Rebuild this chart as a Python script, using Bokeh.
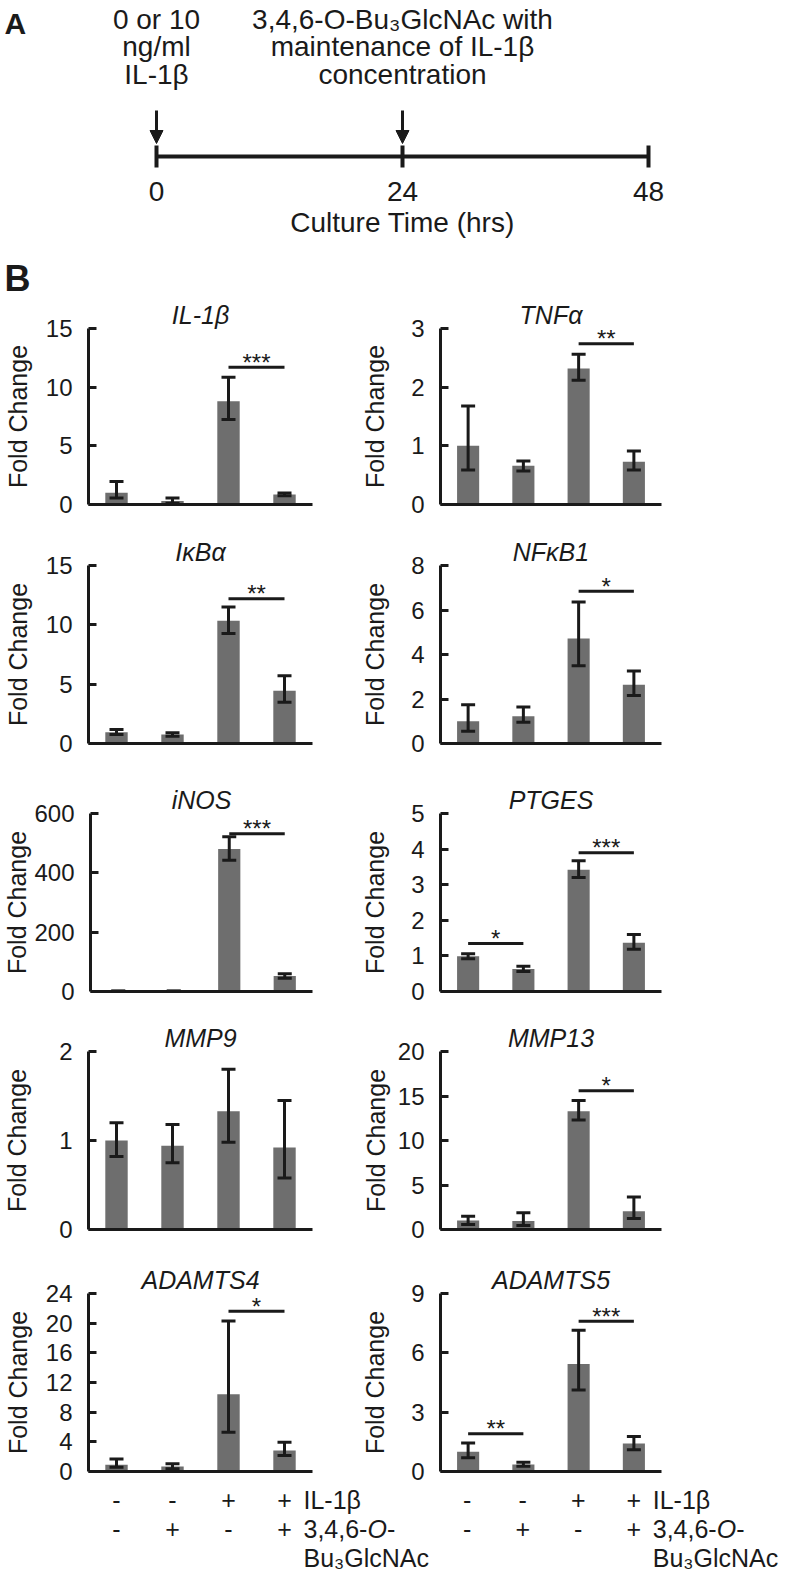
from bokeh.plotting import figure
from bokeh.models import (Range1d, LinearAxis, FixedTicker, Whisker, TeeHead,
                          ColumnDataSource, Arrow, NormalHead)
from bokeh.layouts import column, row
from bokeh.embed import file_html
from bokeh.resources import INLINE
from bokeh.core.properties import value

FONT = "Liberation Sans"
INK = "#1a1a1a"
BAR = "#6e6e6e"

# ---------------- Panel A data ----------------
timeline_hours = [0, 24, 48]
event_hours = [0, 24]
event_0_lines = ["0 or 10", "ng/ml", "IL-1β"]
event_24_lines = ["3,4,6-O-Bu₃GlcNAc with", "maintenance of IL-1β", "concentration"]
time_axis_label = "Culture Time (hrs)"

# ---------------- Panel B data ----------------
il1b_row = ["-", "-", "+", "+"]
bu3_row = ["-", "+", "-", "+"]
y_axis_label = "Fold Change"

IL1B_mean = [1.0, 0.3, 8.8, 0.85]
IL1B_hi = [1.95, 0.55, 10.85, 0.97]
IL1B_lo = [0.55, 0.1, 7.25, 0.75]
IL1B_ticks = [0, 5, 10, 15]
IL1B_sig = [(2, 3, 11.7, "***")]

TNFA_mean = [1.0, 0.66, 2.32, 0.73]
TNFA_hi = [1.68, 0.74, 2.56, 0.91]
TNFA_lo = [0.59, 0.57, 2.12, 0.59]
TNFA_ticks = [0, 1, 2, 3]
TNFA_sig = [(2, 3, 2.74, "**")]

IKBA_mean = [0.95, 0.75, 10.35, 4.45]
IKBA_hi = [1.17, 0.9, 11.5, 5.7]
IKBA_lo = [0.75, 0.61, 9.27, 3.47]
IKBA_ticks = [0, 5, 10, 15]
IKBA_sig = [(2, 3, 12.2, "**")]

NFKB1_mean = [1.0, 1.22, 4.72, 2.64]
NFKB1_hi = [1.74, 1.64, 6.36, 3.26]
NFKB1_lo = [0.55, 0.95, 3.5, 2.16]
NFKB1_ticks = [0, 2, 4, 6, 8]
NFKB1_sig = [(2, 3, 6.84, "*")]

INOS_mean = [1.0, 1.3, 480, 52]
INOS_hi = [1.5, 1.8, 522, 60]
INOS_lo = [0.5, 0.8, 442, 45]
INOS_ticks = [0, 200, 400, 600]
INOS_sig = [(2, 3, 532, "***")]

PTGES_mean = [0.99, 0.63, 3.42, 1.37]
PTGES_hi = [1.06, 0.71, 3.67, 1.6]
PTGES_lo = [0.92, 0.56, 3.2, 1.19]
PTGES_ticks = [0, 1, 2, 3, 4, 5]
PTGES_sig = [(0, 1, 1.35, "*"), (2, 3, 3.9, "***")]

MMP9_mean = [1.0, 0.94, 1.33, 0.92]
MMP9_hi = [1.2, 1.18, 1.8, 1.45]
MMP9_lo = [0.82, 0.75, 0.98, 0.58]
MMP9_ticks = [0, 1, 2]
MMP9_sig = []

MMP13_mean = [1.0, 0.95, 13.3, 2.04]
MMP13_hi = [1.5, 1.87, 14.5, 3.65]
MMP13_lo = [0.56, 0.45, 12.3, 1.23]
MMP13_ticks = [0, 5, 10, 15, 20]
MMP13_sig = [(2, 3, 15.6, "*")]

ADAMTS4_mean = [0.9, 0.67, 10.4, 2.83]
ADAMTS4_hi = [1.7, 1.03, 20.3, 3.95]
ADAMTS4_lo = [0.58, 0.36, 5.3, 2.16]
ADAMTS4_ticks = [0, 4, 8, 12, 16, 20, 24]
ADAMTS4_sig = [(2, 3, 21.6, "*")]

ADAMTS5_mean = [1.0, 0.35, 5.43, 1.41]
ADAMTS5_hi = [1.44, 0.47, 7.14, 1.77]
ADAMTS5_lo = [0.69, 0.27, 4.12, 1.1]
ADAMTS5_ticks = [0, 3, 6, 9]
ADAMTS5_sig = [(0, 1, 1.91, "**"), (2, 3, 7.6, "***")]

panels = [
    ("IL-1β", IL1B_mean, IL1B_hi, IL1B_lo, IL1B_ticks, IL1B_sig),
    ("TNFα", TNFA_mean, TNFA_hi, TNFA_lo, TNFA_ticks, TNFA_sig),
    ("IκBα", IKBA_mean, IKBA_hi, IKBA_lo, IKBA_ticks, IKBA_sig),
    ("NFκB1", NFKB1_mean, NFKB1_hi, NFKB1_lo, NFKB1_ticks, NFKB1_sig),
    ("iNOS", INOS_mean, INOS_hi, INOS_lo, INOS_ticks, INOS_sig),
    ("PTGES", PTGES_mean, PTGES_hi, PTGES_lo, PTGES_ticks, PTGES_sig),
    ("MMP9", MMP9_mean, MMP9_hi, MMP9_lo, MMP9_ticks, MMP9_sig),
    ("MMP13", MMP13_mean, MMP13_hi, MMP13_lo, MMP13_ticks, MMP13_sig),
    ("ADAMTS4", ADAMTS4_mean, ADAMTS4_hi, ADAMTS4_lo, ADAMTS4_ticks, ADAMTS4_sig),
    ("ADAMTS5", ADAMTS5_mean, ADAMTS5_hi, ADAMTS5_lo, ADAMTS5_ticks, ADAMTS5_sig),
]

# ---------------- layout geometry (page pixels) ----------------
PAGE_W, PAGE_H = 792, 1576
COL_FIG_W = [358, 434]
COL_FRAME_OFF = [88, 81]
COL_FRAME_W = [224, 222]
ROW_FRAME_TOP = [326, 565, 813, 1051, 1293]
FRAME_H = 178
HEADER_BOTTOM = 298
TOP_BORDER = 34
LAST_BOTTOM = 1485

TICK_PX = 24
DIGIT_W = 0.556 * TICK_PX
LABEL_STANDOFF = 16
LABEL_TARGET = [54, 48]


def style_fig(p):
    p.outline_line_color = None
    p.background_fill_color = "white"
    p.border_fill_color = "white"


# ---------------- header (panel A) ----------------
TL_Y = 156
pph = (648 - 156) / 48.0
hx0 = -156 / pph
hx1 = 48 + (PAGE_W - 648) / pph
hdr = figure(width=PAGE_W, height=HEADER_BOTTOM, x_range=Range1d(hx0, hx1),
             y_range=Range1d(HEADER_BOTTOM, 0), x_axis_type=None, y_axis_type=None,
             min_border=0, output_backend="svg", toolbar_location=None)
style_fig(hdr)
HF = "28px"
n_t = len(timeline_hours)
hdr.line(x=[timeline_hours[0], timeline_hours[-1]], y=[TL_Y, TL_Y], line_width=4,
         line_color=INK)
hdr.segment(x0=timeline_hours, y0=[TL_Y - 11] * n_t, x1=timeline_hours,
            y1=[TL_Y + 11] * n_t, line_width=4, line_color=INK)
hdr.text(x=timeline_hours, y=[191] * n_t, text=[str(h) for h in timeline_hours],
         text_align="center", text_baseline="middle", text_font=value(FONT),
         text_font_size=HF, text_color=INK)
hdr.text(x=[(timeline_hours[0] + timeline_hours[-1]) / 2], y=[222], text=[time_axis_label],
         text_align="center", text_baseline="middle", text_font=value(FONT),
         text_font_size=HF, text_color=INK)
line_mid = [19, 46, 74]
for h, lines in zip(event_hours, [event_0_lines, event_24_lines]):
    hdr.text(x=[h] * len(lines), y=line_mid, text=lines,
             text_align="center", text_baseline="middle",
             text_font=value(FONT), text_font_size=HF, text_color=INK)
    hdr.add_layout(Arrow(x_start=h, y_start=110, x_end=h, y_end=143,
                         line_width=3, line_color=INK,
                         end=NormalHead(size=13, fill_color=INK, line_color=INK)))
hdr.text(x=[hx0 + 4 / pph], y=[23], text=["A"], text_align="left",
         text_baseline="middle", text_font=value(FONT), text_font_size="30px",
         text_font_style="bold", text_color=INK)
hdr.text(x=[hx0 + 4 / pph], y=[278], text=["B"], text_align="left",
         text_baseline="middle", text_font=value(FONT), text_font_size="36px",
         text_font_style="bold", text_color=INK)


# ---------------- bar panels ----------------
def make_panel(idx, gene, means, hi, lo, ticks, sig):
    r, c = divmod(idx, 2)
    fig_top = HEADER_BOTTOM if r == 0 else ROW_FRAME_TOP[r] - TOP_BORDER
    fig_bot = ROW_FRAME_TOP[r + 1] - TOP_BORDER if r < 4 else LAST_BOTTOM
    tb = ROW_FRAME_TOP[r] - fig_top
    bb = fig_bot - (ROW_FRAME_TOP[r] + FRAME_H)
    fw = COL_FIG_W[c]
    lb = COL_FRAME_OFF[c]
    rb = fw - lb - COL_FRAME_W[c]
    p = figure(width=fw, height=fig_bot - fig_top, x_range=Range1d(0, 4),
               y_range=Range1d(0, ticks[-1]), x_axis_type=None, y_axis_type=None,
               min_border_left=lb, min_border_right=rb, min_border_top=tb,
               min_border_bottom=bb, output_backend="svg", toolbar_location=None,
               title=gene)
    style_fig(p)
    p.title.text_font = FONT
    p.title.text_font_size = "25px"
    p.title.text_font_style = "italic"
    p.title.text_color = INK
    p.title.align = "center"
    p.title.standoff = 0
    ndig = max(len(str(t)) for t in ticks)
    yax = LinearAxis(ticker=FixedTicker(ticks=ticks), axis_line_width=3,
                     axis_line_color=INK, major_tick_in=8, major_tick_out=0,
                     major_tick_line_width=3, major_tick_line_color=INK,
                     minor_tick_line_color=None, major_label_standoff=LABEL_STANDOFF,
                     major_label_text_font=FONT, major_label_text_font_size=f"{TICK_PX}px",
                     major_label_text_color=INK, axis_label=y_axis_label,
                     axis_label_standoff=max(0, int(round(LABEL_TARGET[c] - LABEL_STANDOFF - ndig * DIGIT_W))),
                     axis_label_text_font=FONT, axis_label_text_font_size="25px",
                     axis_label_text_font_style="normal", axis_label_text_color=INK)
    p.add_layout(yax, "left")
    xax = LinearAxis(ticker=FixedTicker(ticks=[]), axis_line_width=3, axis_line_color=INK,
                     major_tick_in=0, major_tick_out=0, minor_tick_line_color=None,
                     major_label_text_font_size="0px", major_label_standoff=0)
    p.add_layout(xax, "below")

    xs = [i + 0.5 for i in range(len(means))]
    src = ColumnDataSource(dict(x=xs, top=means, upper=hi, lower=lo))
    p.vbar(x="x", top="top", width=0.4, source=src, fill_color=BAR, line_color=None)
    p.add_layout(Whisker(base="x", upper="upper", lower="lower", source=src,
                         line_width=3, line_color=INK, level="annotation",
                         upper_head=TeeHead(size=14, line_width=3, line_color=INK),
                         lower_head=TeeHead(size=14, line_width=3, line_color=INK)))
    for (i, j, lvl, stars) in sig:
        p.segment(x0=[xs[i]], y0=[lvl], x1=[xs[j]], y1=[lvl], line_width=3, line_color=INK)
        p.text(x=[(xs[i] + xs[j]) / 2], y=[lvl], text=[stars], text_align="center",
               text_baseline="middle", y_offset=-5, text_font=value(FONT),
               text_font_size="24px", text_color=INK)
    return p


figs = [make_panel(k, *pan) for k, pan in enumerate(panels)]
rows = [row(figs[2 * r], figs[2 * r + 1]) for r in range(5)]

# ---------------- bottom treatment labels ----------------
strip = figure(width=PAGE_W, height=PAGE_H - LAST_BOTTOM,
               x_range=Range1d(0, PAGE_W), y_range=Range1d(PAGE_H, LAST_BOTTOM),
               x_axis_type=None, y_axis_type=None, min_border=0,
               output_backend="svg", toolbar_location=None)
style_fig(strip)
ROW1_Y, ROW2_Y, ROW3_Y = 1499, 1528, 1557
FS = 25
col_left = 0
for c in range(2):
    fl = col_left + COL_FRAME_OFF[c]
    step = COL_FRAME_W[c] / 4.0
    centers = [fl + (i + 0.5) * step for i in range(4)]
    kw = dict(text_align="center", text_baseline="middle", text_font=value(FONT),
              text_font_size=f"{FS}px", text_color=INK)
    strip.text(x=centers, y=[ROW1_Y] * 4, text=il1b_row, **kw)
    strip.text(x=centers, y=[ROW2_Y] * 4, text=bu3_row, **kw)
    lx = centers[-1] + 19
    kw2 = dict(text_align="left", text_baseline="middle", text_font=value(FONT),
               text_font_size=f"{FS}px", text_color=INK)
    strip.text(x=[lx], y=[ROW1_Y], text=["IL-1β"], **kw2)
    w1 = 2.557 * FS
    wO = 0.778 * FS
    strip.text(x=[lx], y=[ROW2_Y], text=["3,4,6-"], **kw2)
    strip.text(x=[lx + w1], y=[ROW2_Y], text=["O"], text_font_style="italic", **kw2)
    strip.text(x=[lx + w1 + wO], y=[ROW2_Y], text=["-"], **kw2)
    strip.text(x=[lx], y=[ROW3_Y], text=["Bu₃GlcNAc"], **kw2)
    col_left += COL_FIG_W[c]

layout = column(hdr, *rows, strip)
open("out.html", "w").write(file_html(layout, INLINE))
